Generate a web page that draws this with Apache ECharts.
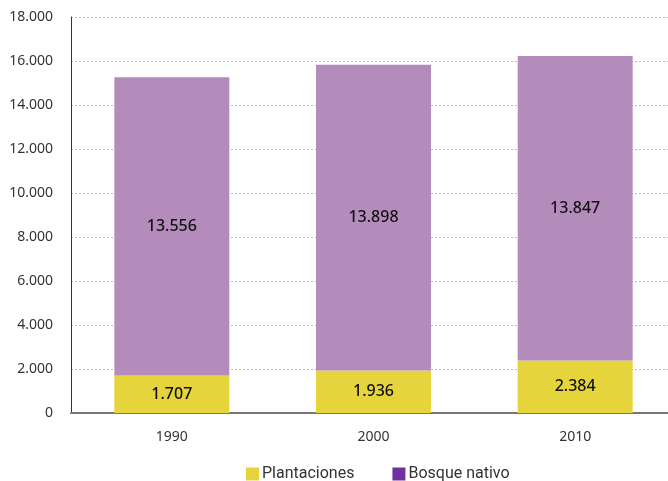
<!DOCTYPE html>
<html><head><meta charset="utf-8">
<script src="https://cdn.jsdelivr.net/npm/echarts@6/dist/echarts.min.js"></script>
<style>html,body{margin:0;padding:0;background:#fff;overflow:hidden}#c{width:680px;height:481px}</style>
</head><body><div id="c"></div>
<script>
const categories = ['1990', '2000', '2010'];
const plantaciones = [1707, 1936, 2384];
const bosqueNativo = [13556, 13898, 13847];
const seriesNames = ['Plantaciones', 'Bosque nativo'];

function fmt(v) { return String(v).replace(/\B(?=(\d{3})+(?!\d))/g, '.'); }
const font = '"Noto Sans", sans-serif';
const legendFont = 'Roboto, "Noto Sans", sans-serif';
const chart = echarts.init(document.getElementById('c'));
chart.setOption({
  animation: false,
  textStyle: { fontFamily: font },
  grid: { left: 71, top: 17, width: 605, height: 396, containLabel: false },
  legend: {
    top: 466, left: 246, padding: 0, itemWidth: 13, itemHeight: 13, itemGap: 38,
    icon: 'rect',
    textStyle: { fontSize: 16, color: '#333', fontFamily: legendFont, padding: [0, 0, 0, -2] },
    data: [
      { name: seriesNames[0], itemStyle: { color: '#e6d43c' } },
      { name: seriesNames[1], itemStyle: { color: '#7030a0' } }
    ]
  },
  xAxis: {
    type: 'category', data: categories,
    axisLine: { lineStyle: { color: '#777', width: 2 } },
    axisTick: { show: false },
    axisLabel: { color: '#333', fontSize: 14, margin: 17 }
  },
  yAxis: {
    type: 'value', min: 0, max: 18000, interval: 2000,
    axisLine: { show: true, lineStyle: { color: '#333', width: 1 } },
    axisTick: { show: false },
    splitLine: { lineStyle: { color: '#bbb', type: [2, 2] } },
    axisLabel: { color: '#333', fontSize: 14, margin: 18, formatter: fmt }
  },
  series: [
    { name: seriesNames[0], type: 'bar', stack: 't', data: plantaciones, barWidth: 115,
      itemStyle: { color: '#e6d43c' },
      label: { show: true, position: 'inside', color: '#111', fontSize: 16, fontWeight: 500, formatter: p => fmt(p.value) } },
    { name: seriesNames[1], type: 'bar', stack: 't', data: bosqueNativo, barWidth: 115,
      itemStyle: { color: '#b48cbc' },
      label: { show: true, position: 'inside', color: '#111', fontSize: 16, fontWeight: 500, formatter: p => fmt(p.value) } }
  ]
});
</script></body></html>
